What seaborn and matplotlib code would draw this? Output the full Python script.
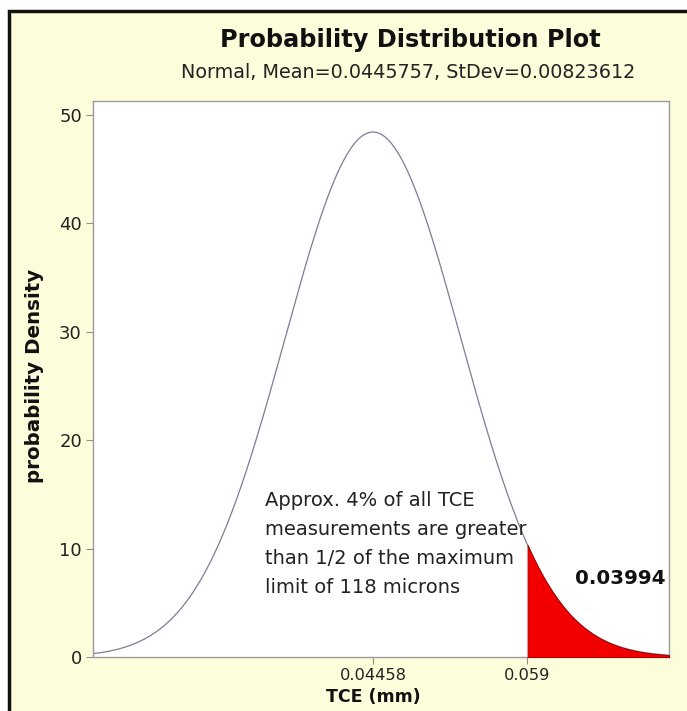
import numpy as np
import pandas as pd
import matplotlib
matplotlib.use("Agg")
import matplotlib.pyplot as plt
from matplotlib.patches import Rectangle
import seaborn as sns

# ---- chart values ----
dist_mean = 0.0445757
dist_stdev = 0.00823612
x_range = [0.01836, 0.0723]
shade_from = 0.059
shade_area_label = "0.03994"
x_tick_values = [0.04458, 0.059]
x_tick_labels = ["0.04458", "0.059"]
y_tick_values = [0, 10, 20, 30, 40, 50]
title = "Probability Distribution Plot"
subtitle = "Normal, Mean=0.0445757, StDev=0.00823612"
x_label = "TCE (mm)"
y_label = "probability Density"
note_lines = ["Approx. 4% of all TCE",
              "measurements are greater",
              "than 1/2 of the maximum",
              "limit of 118 microns"]

# density curve of the stated normal distribution
xs = np.linspace(x_range[0], x_range[1], 600)
dens = np.exp(-0.5 * ((xs - dist_mean) / dist_stdev) ** 2) / (dist_stdev * np.sqrt(2 * np.pi))
df = pd.DataFrame({"x": xs, "density": dens})

sns.set_theme(style="white")
plt.rcParams['font.family'] = ['DejaVu Sans']

fig = plt.figure(figsize=(6.87, 7.11), dpi=100)
fig.patch.set_facecolor("white")
# beige panel with black frame on top/left
bg = Rectangle((8.5 / 687, -0.05), 1.2, 1 - 10.5 / 711 + 0.05, transform=fig.transFigure,
               facecolor="#FEFDDB", edgecolor="#111111", linewidth=2.5, zorder=-10)
fig.patches.append(bg)

ax = fig.add_axes([93 / 687, 1 - 657 / 711, (669 - 93) / 687, (657 - 101) / 711])
ax.set_facecolor("white")

sns.lineplot(data=df, x="x", y="density", ax=ax, color="#7c7c96", linewidth=0.9)
mask = df["x"] >= shade_from
ax.fill_between(df["x"][mask], 0, df["density"][mask], color="#F20000",
                edgecolor="#B00000", linewidth=0.8, zorder=3)

ax.set_xlim(x_range)
ax.set_ylim(0, 51.3)
ax.set_xticks(x_tick_values)
ax.set_xticklabels(x_tick_labels)
ax.set_yticks(y_tick_values)
ax.tick_params(axis="both", which="both", direction="out", length=5, width=0.8,
               color="#909090", labelcolor="#222222", pad=3,
               bottom=True, left=True)
ax.tick_params(axis="x", labelsize=11.7)
ax.tick_params(axis="y", labelsize=13)
ax.set_xlabel("")
ax.set_ylabel("")
for s in ax.spines.values():
    s.set_color("#9a9a9a")
    s.set_linewidth(1.0)

fig.text(410 / 687, 1 - 40 / 711, title, ha="center", va="center",
         fontsize=17.3, fontweight="bold", color="#111111")
fig.text(408 / 687, 1 - 73 / 711, subtitle, ha="center", va="center",
         fontsize=13.8, color="#222222")
fig.text(373 / 687, 1 - 697 / 711, x_label, ha="center", va="center",
         fontsize=12.5, fontweight="bold", color="#111111")
fig.text(35 / 687, 1 - 376 / 711, y_label, ha="center", va="center", rotation=90,
         fontsize=14.3, fontweight="bold", color="#111111")

for i, line in enumerate(note_lines):
    fig.text(265 / 687, 1 - (500 + i * 29.3) / 711, line, ha="left", va="center",
             fontsize=14, color="#222222")
fig.text(620 / 687, 1 - 578 / 711, shade_area_label, ha="center", va="center",
         fontsize=14.3, fontweight="bold", color="#111111")

fig.savefig("out.png", dpi=100)
